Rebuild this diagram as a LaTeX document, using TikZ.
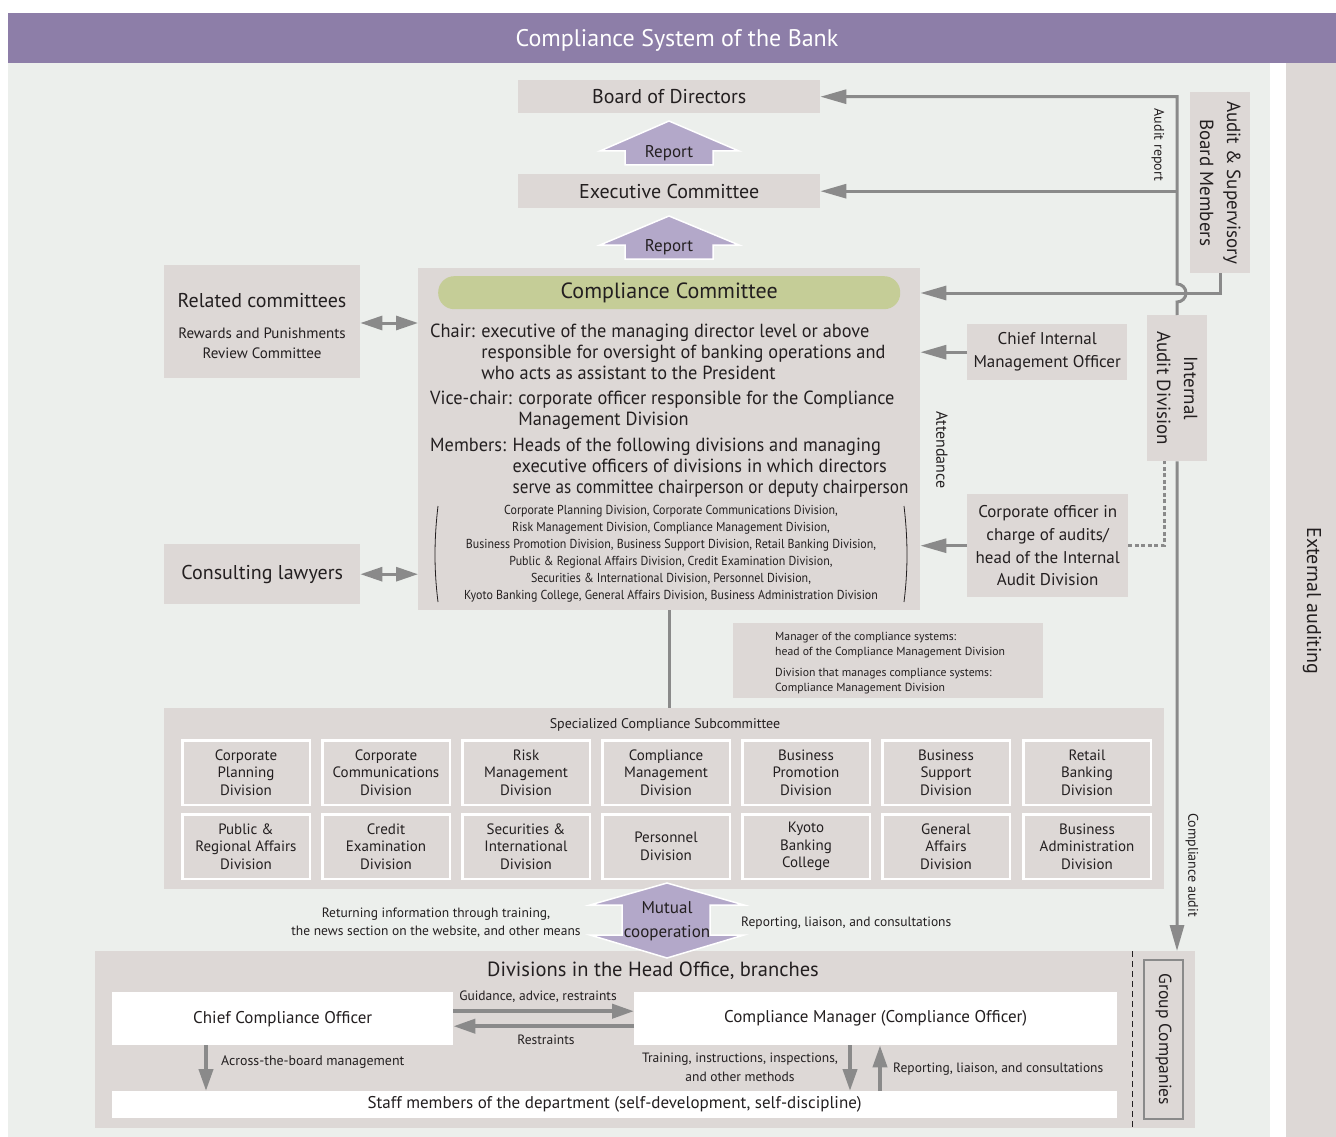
\documentclass[tikz,border=0pt]{standalone}
\usepackage{fontspec}
\setmainfont{PT Sans}
\newfontfamily\semicond[FakeStretch=0.965]{PT Sans}
\newfontfamily\condensed[FakeStretch=0.92]{PT Sans}
\usetikzlibrary{positioning,arrows.meta}
\definecolor{titlepurple}{RGB}{141,126,168}
\definecolor{bggreen}{RGB}{236,239,236}
\definecolor{boxgray}{RGB}{221,216,214}
\definecolor{linegray}{RGB}{138,138,138}
\definecolor{lilac}{RGB}{179,168,201}
\definecolor{pillgreen}{RGB}{197,205,151}
\definecolor{textdark}{RGB}{35,31,32}
\newcommand{\fsz}[2]{\fontsize{#1}{#2}\selectfont}

\begin{document}
\begin{tikzpicture}[x=1pt, y=-1pt,
    every node/.style={text=textdark, inner sep=0pt},
    box/.style={fill=boxgray, anchor=north west, align=center},
    whitebox/.style={box, fill=white},
    divbox/.style={box, draw=white, line width=2.5pt, minimum width=127.5pt, minimum height=64.5pt, font=\fsz{15}{17.5}},
    greyline/.style={draw=linegray, line width=3pt},
    arrowline/.style={greyline, -{Triangle[length=26pt,width=14pt]}},
    twoway/.style={greyline, {Triangle[length=22pt,width=14pt]}-{Triangle[length=22pt,width=14pt]}},
    dotline/.style={draw=linegray, line width=3pt, dash pattern=on 4pt off 2.5pt},
    fatarrow/.style={draw=linegray, line width=4pt, -{Triangle[length=22pt,width=14pt]}},
    bigarrow/.style={fill=lilac, draw=white, line width=1.5pt}]
    \useasboundingbox (0,0) rectangle (1336,1137);
    % Background
    \fill[titlepurple] (8,13) rectangle (1336,63);
    \fill[bggreen] (8,63) rectangle (1270,1137);
    \fill[boxgray] (1286,63) rectangle (1336,1137);
    \node[text=white, font=\fsz{24}{28}] (title) at (677,40) {Compliance System of the Bank};
    \node[rotate=-90, font=\fsz{20}{24}] (extaud) at (1312,601) {External auditing};

    % Top of the chain
    \node[box, minimum width=302pt, minimum height=33pt, font=\fsz{20}{24}] (bod) at (518,80) {Board of Directors};
    \node[box, minimum width=302pt, minimum height=34pt, font=\fsz{20}{24}] (exec) at (518,174) {Executive Committee};
    \fill[bigarrow] (669,121) -- (739,151) -- (713,151) -- (713,165) -- (625,165) -- (625,151) -- (600,151) -- cycle;
    \node[font=\fsz{17}{20}] (report1) at (669,153) {Report};
    \fill[bigarrow] (669,216) -- (739,245) -- (713,245) -- (713,259) -- (625,259) -- (625,245) -- (600,245) -- cycle;
    \node[font=\fsz{17}{20}] (report2) at (669,247) {Report};

    % Compliance Committee
    \node[box, minimum width=502pt, minimum height=342pt] (committee) at (418,268) {};
    \node[box, fill=pillgreen, rounded corners=16pt, minimum width=462pt, minimum height=33pt, font=\fsz{22}{26}] (cc) at (438,276) {Compliance Committee};
    \node[anchor=base west, font=\semicond\fsz{19}{21}] (chair) at (430,337) {\begin{tabular}[t]{@{}l@{ }l@{}}Chair: & executive of the managing director level or above\\ & responsible for oversight of banking operations and\\ & who acts as assistant to the President\end{tabular}};
    \node[anchor=base west, font=\semicond\fsz{19}{21}] (vicechair) at (430,404) {\begin{tabular}[t]{@{}l@{ }l@{}}Vice-chair: & corporate officer responsible for the Compliance\\ & Management Division\end{tabular}};
    \node[anchor=base west, font=\semicond\fsz{19}{21}] (members) at (430,451) {\begin{tabular}[t]{@{}l@{ }l@{}}Members: & Heads of the following divisions and managing\\ & executive officers of divisions in which directors\\ & \scalebox{0.935}[1]{serve as committee chairperson or deputy chairperson}\end{tabular}};
    \node[align=center, font=\condensed\fsz{13}{17}] (memberlist) at (671,554) {Corporate Planning Division, Corporate Communications Division,\\Risk Management Division, Compliance Management Division,\\Business Promotion Division, Business Support Division, Retail Banking Division,\\Public \& Regional Affairs Division, Credit Examination Division,\\Securities \& International Division, Personnel Division,\\Kyoto Banking College, General Affairs Division, Business Administration Division};
    \draw[textdark, line width=0.8pt] (438,506) .. controls (434,540) and (434,570) .. (438,602);
    \draw[textdark, line width=0.8pt] (904,506) .. controls (908,540) and (908,570) .. (904,602);
    \node[rotate=-90, font=\fsz{16}{19}] (attend) at (942,450) {Attendance};

    % Left side
    \node[box, minimum width=196pt, minimum height=113pt] (related) at (164,265) {};
    \node[font=\fsz{20}{24}] (relatedtitle) at (262,301) {Related committees};
    \node[align=center, font=\fsz{15}{20}] (rewards) at (262,343) {Rewards and Punishments\\Review Committee};
    \node[box, minimum width=196pt, minimum height=60pt, font=\fsz{20}{24}] (lawyers) at (164,544) {Consulting lawyers};
    \draw[twoway] (related.east |- 0,323) -- (committee.west |- 0,323);
    \draw[twoway] (lawyers.east) -- (committee.west |- lawyers.east);

    % Right side
    \node[box, minimum width=160pt, minimum height=56pt, font=\fsz{17}{23}] (cimo) at (967,324) {Chief Internal\\Management Officer};
    \node[box, minimum width=161pt, minimum height=103pt, font=\fsz{17}{22.7}] (corpoff) at (967,494) {Corporate officer in\\charge of audits/\\head of the Internal\\Audit Division};
    \node[box, minimum width=60pt, minimum height=181pt] (asbm) at (1190,92) {};
    \node[rotate=-90, align=center, font=\fsz{19}{27}] (asbmtext) at (asbm.center) {Audit \& Supervisory\\Board Members};
    \node[box, minimum width=60pt, minimum height=146pt] (iad) at (1147,315) {};
    \node[rotate=-90, align=center, font=\fsz{19}{27}] (iadtext) at (iad.center) {Internal\\Audit Division};
    \node[rotate=-90, font=\fsz{14}{17}] (auditreport) at (1158,145) {Audit report};
    \node[rotate=-90, font=\fsz{14}{17}] (compaudit) at (1192,865) {Compliance audit};

    % Lines
    \draw[arrowline] (iad.north) -- (1177,302) arc[start angle=-90, end angle=90, radius=9pt] -- (1177,0 |- bod.east) -- (bod.east);
    \draw[arrowline] (1177,0 |- exec.east) -- (exec.east);
    \draw[arrowline] (asbm.south) -- (asbm.south |- 0,293) -- (committee.east |- 0,293);
    \draw[arrowline] (cimo.west) -- (committee.east |- cimo.west);
    \draw[arrowline] (corpoff.west) -- (committee.east |- corpoff.west);
    \draw[dotline] (corpoff.east) -- (1164,0 |- corpoff.east) -- (1164,0 |- iad.south);
    \draw[arrowline] (iad.south) -- (1177,951);

    % Info box
    \node[box, minimum width=310pt, minimum height=75pt] (info) at (733,623) {};
    \node[anchor=north west, align=left, font=\fsz{11.7}{15}] (infotext1) at (775,632) {Manager of the compliance systems:\\head of the Compliance Management Division};
    \node[anchor=north west, align=left, font=\fsz{11.7}{15}] (infotext2) at (775,668) {Division that manages compliance systems:\\Compliance Management Division};

    % Specialized Compliance Subcommittee
    \node[box, minimum width=1000pt, minimum height=181pt] (sub) at (164,708) {};
    \draw[greyline] (committee.south) -- (committee.south |- sub.north);
    \node[font=\fsz{14}{17}] (subtitle) at (665,725) {Specialized Compliance Subcommittee};
    \node[divbox] (d1) at (181,739) {Corporate\\Planning\\Division};
    \node[divbox] (d2) at (321,739) {Corporate\\Communications\\Division};
    \node[divbox] (d3) at (461,739) {Risk\\Management\\Division};
    \node[divbox] (d4) at (601,739) {Compliance\\Management\\Division};
    \node[divbox] (d5) at (741,739) {Business\\Promotion\\Division};
    \node[divbox] (d6) at (881,739) {Business\\Support\\Division};
    \node[divbox] (d7) at (1022,739) {Retail\\Banking\\Division};
    \node[divbox] (d8) at (181,813) {Public \&\\Regional Affairs\\Division};
    \node[divbox] (d9) at (321,813) {Credit\\Examination\\Division};
    \node[divbox] (d10) at (461,813) {Securities \&\\International\\Division};
    \node[divbox] (d11) at (601,813) {Personnel\\Division};
    \node[divbox] (d12) at (741,813) {Kyoto\\Banking\\College};
    \node[divbox] (d13) at (881,813) {General\\Affairs\\Division};
    \node[divbox] (d14) at (1022,813) {Business\\Administration\\Division};

    % Head Office and branches
    \node[box, minimum width=1100pt, minimum height=177pt] (branches) at (95,951) {};
    \draw[textdark, line width=0.8pt, dash pattern=on 6pt off 4pt] (1132,951) -- (1132,1128);
    \node[box, draw=linegray, line width=2pt, minimum width=39pt, minimum height=159pt] (group) at (1143,959) {};
    \node[rotate=-90, font=\fsz{17.5}{20}] (grouptext) at (group.center) {Group Companies};
    \node[font=\fsz{20.5}{24}] (branchtitle) at (653,971) {Divisions in the Head Office, branches};
    \node[whitebox, minimum width=341pt, minimum height=53pt, font=\fsz{17}{20}] (cco) at (112,992) {Chief Compliance Officer};
    \node[whitebox, minimum width=483pt, minimum height=53pt, font=\fsz{17}{20}] (cm) at (634,992) {Compliance Manager (Compliance Officer)};
    \node[whitebox, minimum width=1005pt, minimum height=27pt, font=\fsz{17}{20}] (staff) at (112,1091) {Staff members of the department (self-development, self-discipline)};
    \draw[fatarrow] ([yshift=7.5pt]cco.east) -- ([yshift=7.5pt]cm.west);
    \draw[fatarrow] ([yshift=-7.5pt]cm.west) -- ([yshift=-7.5pt]cco.east);
    \node[font=\fsz{13.5}{16}] (guidance) at (538,997) {Guidance, advice, restraints};
    \node[font=\fsz{13.5}{16}] (restraints) at (546,1040) {Restraints};
    \draw[fatarrow] (cco.south -| 206,0) -- (staff.north -| 206,0);
    \node[anchor=west, font=\fsz{13.9}{16}] (acrossboard) at (221,1062) {Across-the-board management};
    \draw[fatarrow] (cm.south -| 850,0) -- (staff.north -| 850,0);
    \draw[fatarrow] (staff.north -| 880,0) -- (cm.south -| 880,0);
    \node[align=center, font=\fsz{13.5}{19}] (training) at (740,1067) {Training, instructions, inspections,\\and other methods};
    \node[anchor=west, font=\fsz{13.5}{16}] (reportingdown) at (893,1069) {Reporting, liaison, and consultations};

    % Mutual cooperation
    \fill[bigarrow] (667,883) -- (744,905) -- (710,905) -- (710,935) -- (744,935) -- (667,958) -- (590,935) -- (622,935) -- (622,905) -- (590,905) -- cycle;
    \node[align=center, font=\fsz{17}{24}] (mutual) at (667,921) {Mutual\\cooperation};
    \node[align=center, font=\fsz{13.5}{18}] (returning) at (436,923) {Returning information through training,\\the news section on the website, and other means};
    \node[anchor=west, font=\fsz{13.5}{16}] (reportingup) at (741,923) {Reporting, liaison, and consultations};
\end{tikzpicture}
\end{document}
